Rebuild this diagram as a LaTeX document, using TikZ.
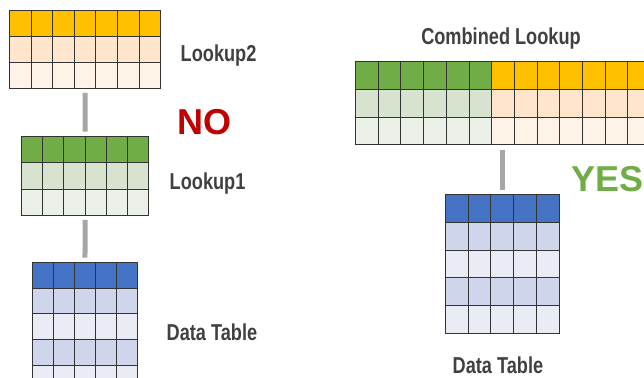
\documentclass[tikz,border=0pt]{standalone}
\usepackage{fontspec}
\usetikzlibrary{
  matrix,
  positioning,
  fit
}
\newfontfamily\lblfont[FakeStretch=0.79]{Liberation Sans}
\newfontfamily\bigfont{Liberation Sans}
\definecolor{hdyellow}{HTML}{FFC000}
\definecolor{midyellow}{HTML}{FFE5CC}
\definecolor{lowyellow}{HTML}{FFF2E6}
\definecolor{hdgreen}{HTML}{70AD47}
\definecolor{midgreen}{HTML}{D7E3CF}
\definecolor{lowgreen}{HTML}{EBF1E8}
\definecolor{hdblue}{HTML}{4472C4}
\definecolor{midblue}{HTML}{CFD5EA}
\definecolor{lowblue}{HTML}{E9EBF5}
\definecolor{cellline}{HTML}{333333}
\definecolor{barcolor}{HTML}{A6A6A6}
\definecolor{labelgray}{HTML}{404040}
\definecolor{nored}{HTML}{C00000}

\begin{document}
\begin{tikzpicture}[
      x=1pt, y=-1pt,
      tabgrid/.style 2 args={
         matrix of nodes,
         nodes in empty cells,
         inner sep=0pt, outer sep=0pt,
         column sep=-0.9pt, row sep=-0.9pt,
         nodes={
            rectangle,
            draw=cellline,
            line width=0.9pt,
            inner sep=0pt, outer sep=0pt,
            minimum width=#1,
            minimum height=#2,
            anchor=center
         }
      },
      yellowrows/.style={
         row 1/.style={nodes={fill=hdyellow}},
         row 2/.style={nodes={fill=midyellow}},
         row 3/.style={nodes={fill=lowyellow}}
      },
      greenrows/.style={
         row 1/.style={nodes={fill=hdgreen}},
         row 2/.style={nodes={fill=midgreen}},
         row 3/.style={nodes={fill=lowgreen}}
      },
      bluerows/.style={
         row 1/.style={nodes={fill=hdblue}},
         row 2/.style={nodes={fill=midblue}},
         row 3/.style={nodes={fill=lowblue}},
         row 4/.style={nodes={fill=midblue}},
         row 5/.style={nodes={fill=lowblue}}
      },
      link/.style={draw=barcolor, line width=5pt, shorten <=4pt, shorten >=4.5pt},
      lbl/.style={
         font=\lblfont\bfseries\fontsize{23}{23}\selectfont,
         text=labelgray, inner sep=0pt, anchor=base west
      },
      verdict/.style={
         font=\bigfont\bfseries\fontsize{36}{36}\selectfont,
         inner sep=0pt, anchor=base west
      }
    ]
    \useasboundingbox (0,0) rectangle (644,377);
    \clip (0,0) rectangle (644,377);
    % left side: three separate tables
    \matrix (lkp2) [tabgrid={21.6pt}{26pt}, yellowrows, anchor=north west] at (9,10) {
 &&&&&& \\
 &&&&&& \\
 &&&&&& \\
    };
    \matrix (lkp1) [tabgrid={21.2pt}{26.3pt}, greenrows, anchor=north west] at (21,136) {
 &&&&& \\
 &&&&& \\
 &&&&& \\
    };
    \matrix (dat1) [tabgrid={21pt}{25.7pt}, bluerows, anchor=north west] at (32,262) {
 &&&& \\
 &&&& \\
 &&&& \\
 &&&& \\
 &&&& \\
    };
    \draw[link] (lkp2) -- (lkp1);
    \draw[link] (lkp1) -- (dat1);
    \node[lbl] (lkp2lbl) at (180.5,62) {Lookup2};
    \node[lbl] (lkp1lbl) at (169.5,189) {Lookup1};
    \node[lbl] (dat1lbl) at (166.5,340) {Data Table};
    \node[verdict, text=nored] (no) at (177,134.5) {NO};
    % right side: one combined table
    \matrix (cmbg) [tabgrid={22.7pt}{27.8pt}, greenrows, anchor=north west] at (355,61) {
 &&&&& \\
 &&&&& \\
 &&&&& \\
    };
    \matrix (cmby) [tabgrid={22.7pt}{27.8pt}, yellowrows, right=-0.9pt of cmbg] {
 &&&&&& \\
 &&&&&& \\
 &&&&&& \\
    };
    \node[fit=(cmbg)(cmby), inner sep=0pt] (cmb) {};
    \matrix (dat2) [tabgrid={22.7pt}{27.8pt}, bluerows, anchor=north west] at (445,194) {
 &&&& \\
 &&&& \\
 &&&& \\
 &&&& \\
 &&&& \\
    };
    \draw[link] (cmb.south -| dat2.north) -- (dat2.north);
    \node[lbl, anchor=base] (cmblbl) at (501,45) {Combined Lookup};
    \node[lbl] (dat2lbl) at (452.5,373) {Data Table};
    \node[verdict, text=hdgreen] (yes) at (571,191) {YES};
\end{tikzpicture}
\end{document}
